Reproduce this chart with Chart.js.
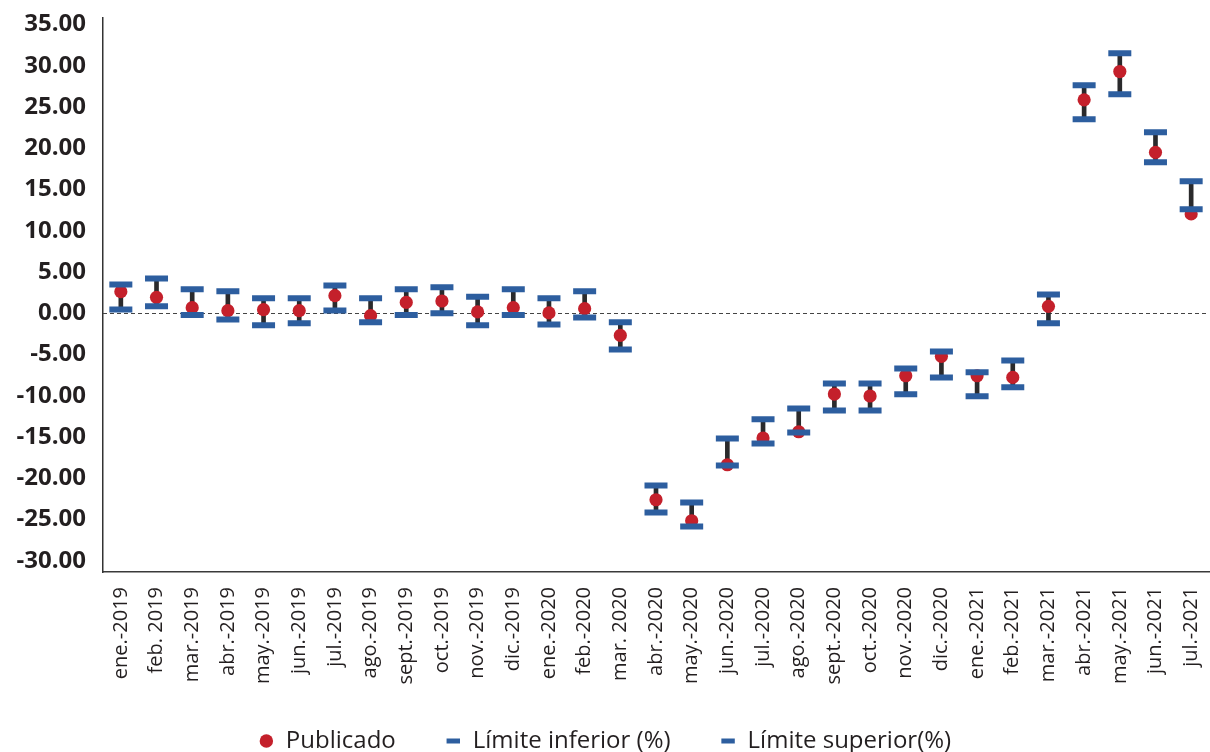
<!DOCTYPE html>
<html lang="es">
<head>
<meta charset="utf-8">
<title>Publicado y límites (%)</title>
<script src="https://cdn.jsdelivr.net/npm/chart.js@4.4.1/dist/chart.umd.min.js"></script>
<style>
  html, body { margin: 0; padding: 0; background: #ffffff; }
  #wrap { width: 1210px; height: 752px; position: relative; }
</style>
</head>
<body>
<div id="wrap"><canvas id="chart"></canvas></div>
<script>
// Meses del periodo
const categories = [
  "ene.-2019", "feb. 2019", "mar.-2019", "abr.-2019", "may.-2019", "jun.-2019",
  "jul.-2019", "ago.-2019", "sept.-2019", "oct.-2019", "nov.-2019", "dic.-2019",
  "ene.-2020", "feb.-2020", "mar. 2020", "abr.-2020", "may.-2020", "jun.-2020",
  "jul.-2020", "ago.-2020", "sept.-2020", "oct.-2020", "nov.-2020", "dic.-2020",
  "ene.-2021", "feb.-2021", "mar.-2021", "abr.-2021", "may.-2021", "jun.-2021",
  "jul.-2021"
];

// Valor publicado (%)
const publicado = [
  2.62, 1.93, 0.68, 0.32, 0.44, 0.32, 2.13, -0.29, 1.32, 1.49, 0.16, 0.68,
  0.04, 0.56, -2.68, -22.60, -25.15, -18.36, -15.12, -14.36, -9.79, -10.03,
  -7.57, -5.22, -7.57, -7.77, 0.84, 25.87, 29.30, 19.51, 12.04
];

// Límite inferior (%)
const limiteInferior = [
  0.47, 0.84, -0.20, -0.74, -1.46, -1.22, 0.35, -1.10, -0.20, 0.00, -1.46, -0.20,
  -1.35, -0.50, -4.38, -24.14, -25.84, -18.44, -15.77, -14.44, -11.77, -11.77,
  -9.83, -7.77, -10.07, -8.98, -1.22, 23.52, 26.55, 18.30, 12.60
];

// Límite superior (%)
const limiteSuperior = [
  3.49, 4.20, 2.90, 2.66, 1.81, 1.81, 3.38, 1.81, 2.90, 3.14, 2.01, 2.90,
  1.81, 2.66, -1.10, -20.87, -22.93, -15.17, -12.86, -11.53, -8.50, -8.50,
  -6.68, -4.62, -7.16, -5.71, 2.29, 27.64, 31.52, 21.94, 16.00
];

// Marcas del eje vertical
const yTicks = [35, 30, 25, 20, 15, 10, 5, 0, -5, -10, -15, -20, -25, -30];

const RED = "#c4202b";
const BLUE = "#2d5e9f";
const INK = "#231f20";

const refLines = {
  id: "refLines",
  afterLayout(chart) {
    // el área de trazado llega hasta el borde derecho del lienzo
    const area = chart.chartArea;
    const x = chart.scales.x;
    const right = chart.width - 1;
    area.right = right;
    area.width = right - area.left;
    x.right = right;
    x.width = right - x.left;
    x.configure();
    // la leyenda se sube para quedar justo bajo las etiquetas del eje
    chart.legend.top -= 18;
    chart.legend.bottom -= 18;
  },
  // línea discontinua en el valor 0
  beforeDatasetsDraw(chart) {
    const { ctx, chartArea, scales } = chart;
    const y = Math.round(scales.y.getPixelForValue(0)) + 0.5;
    ctx.save();
    ctx.strokeStyle = "#444444";
    ctx.lineWidth = 1;
    ctx.setLineDash([4, 3]);
    ctx.beginPath();
    ctx.moveTo(chartArea.left, y);
    ctx.lineTo(chartArea.right, y);
    ctx.stroke();
    ctx.restore();
  }
};

new Chart(document.getElementById("chart"), {
  data: {
    labels: categories,
    datasets: [
      {
        type: "line",
        label: "Publicado",
        data: publicado,
        showLine: false,
        pointStyle: "circle",
        pointRadius: 6.6,
        pointBackgroundColor: RED,
        pointBorderWidth: 0,
        order: 1
      },
      {
        type: "line",
        label: "Límite inferior (%)",
        data: limiteInferior,
        showLine: false,
        pointStyle: "line",
        pointRadius: 11.5,
        pointBorderWidth: 6,
        pointBorderColor: BLUE,
        pointBackgroundColor: BLUE,
        order: 0
      },
      {
        type: "line",
        label: "Límite superior(%)",
        data: limiteSuperior,
        showLine: false,
        pointStyle: "line",
        pointRadius: 11.5,
        pointBorderWidth: 6,
        pointBorderColor: BLUE,
        pointBackgroundColor: BLUE,
        order: 0
      },
      {
        type: "bar",
        label: "rango",
        data: limiteInferior.map((lo, i) => [lo, limiteSuperior[i]]),
        backgroundColor: "#2a2a2c",
        barThickness: 4,
        order: 2
      }
    ]
  },
  options: {
    responsive: true,
    maintainAspectRatio: false,
    animation: false,
    events: [],
    layout: { padding: { top: 16, right: 0, bottom: -29, left: 0 } },
    plugins: {
      tooltip: { enabled: false },
      legend: {
        position: "bottom",
        labels: {
          usePointStyle: true,
          boxWidth: 15,
          boxHeight: 9.5,
          padding: 50,
          color: INK,
          font: { family: "'Open Sans', sans-serif", size: 24 },
          generateLabels(chart) {
            return chart.data.datasets
              .map((ds, i) => ({ ds, i }))
              .filter(o => o.ds.type === "line")
              .map(({ ds, i }) => ({
                text: ds.label,
                datasetIndex: i,
                pointStyle: ds.pointStyle,
                fillStyle: ds.pointStyle === "circle" ? RED : BLUE,
                strokeStyle: ds.pointStyle === "circle" ? RED : BLUE,
                lineWidth: ds.pointStyle === "circle" ? 0 : 5,
                fontColor: INK,
                hidden: false
              }));
          }
        }
      }
    },
    scales: {
      x: {
        type: "category",
        offset: true,
        grid: { display: false, drawTicks: false },
        border: { display: true, color: "#3a3a3a", width: 1.5 },
        ticks: {
          autoSkip: false,
          minRotation: 90,
          maxRotation: 90,
          padding: 15,
          color: INK,
          font: { family: "'Open Sans', sans-serif", size: 20 }
        },
        afterFit(scale) {
          scale.height = 125;
          scale.paddingLeft = 0;
          scale.paddingRight = 0;
        }
      },
      y: {
        min: -31.36,
        max: 35.85,
        grid: { display: false, drawTicks: false },
        border: { display: true, color: "#333333", width: 1.5 },
        afterBuildTicks(scale) {
          scale.ticks = yTicks.map(v => ({ value: v }));
        },
        afterFit(scale) {
          scale.width = 103;
          scale.paddingTop = 0;
          scale.paddingBottom = 0;
        },
        ticks: {
          padding: 17,
          color: INK,
          font: { family: "'Open Sans', sans-serif", size: 24, weight: "bold" },
          callback: (v) => Number(v).toFixed(2)
        }
      }
    }
  },
  plugins: [refLines]
});
</script>
</body>
</html>
